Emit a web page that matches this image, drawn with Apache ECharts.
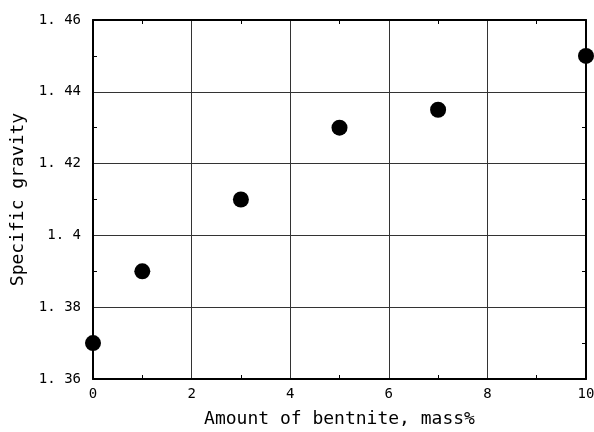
<!DOCTYPE html>
<html>
<head>
<meta charset="utf-8">
<script src="https://cdn.jsdelivr.net/npm/echarts@6/dist/echarts.min.js"></script>
<style>
  html, body { margin: 0; padding: 0; background: #fff; }
  #chart { width: 594px; height: 432px; }
</style>
</head>
<body>
<div id="chart"></div>
<script>
const bentonite = [0, 1, 3, 5, 7, 10];
const gravity = [1.37, 1.39, 1.41, 1.43, 1.435, 1.45];
const yTickLabels = { "1.36": "1. 36", "1.38": "1. 38", "1.4": "1. 4", "1.42": "1. 42", "1.44": "1. 44", "1.46": "1. 46" };

const font = "'DejaVu Sans Mono', 'Liberation Mono', monospace";

const chart = echarts.init(document.getElementById("chart"));

const frameAxis = {
  axisLine: { show: true, onZero: false, lineStyle: { color: "#000", width: 2 } },
  axisTick: { show: false, inside: true },
  minorTick: { show: true, splitNumber: 2, length: 4, lineStyle: { color: "#000", width: 1 } },
  minorSplitLine: { show: false }
};

chart.setOption({
  animation: false,
  grid: { left: 93, right: 8, top: 20, bottom: 53, outerBoundsMode: "none", containLabel: false },
  xAxis: [
    {
      type: "value", min: 0, max: 10, interval: 2,
      name: "Amount of bentnite, mass%",
      nameLocation: "middle", nameGap: 31,
      nameTextStyle: { fontFamily: font, fontSize: 18, color: "#000" },
      axisLabel: { fontFamily: font, fontSize: 14, color: "#000", margin: 8 },
      splitLine: { show: true, lineStyle: { color: "#333", width: 1 } },
      ...frameAxis
    },
    {
      type: "value", min: 0, max: 10, interval: 2, position: "top",
      axisLabel: { show: false }, splitLine: { show: false },
      ...frameAxis
    }
  ],
  yAxis: [
    {
      type: "value", min: 1.36, max: 1.46, interval: 0.02,
      name: "Specific gravity",
      nameLocation: "middle", nameGap: 66,
      nameTextStyle: { fontFamily: font, fontSize: 18, color: "#000" },
      axisLabel: {
        fontFamily: font, fontSize: 14, color: "#000", margin: 12,
        formatter: v => yTickLabels[String(+v.toFixed(2))] || String(v)
      },
      splitLine: { show: true, lineStyle: { color: "#333", width: 1 } },
      ...frameAxis
    },
    {
      type: "value", min: 1.36, max: 1.46, interval: 0.02, position: "right",
      axisLabel: { show: false }, splitLine: { show: false },
      ...frameAxis
    }
  ],
  series: [
    {
      type: "scatter",
      data: bentonite.map((x, i) => [x, gravity[i]]),
      symbol: "circle",
      symbolSize: 16,
      clip: false,
      itemStyle: { color: "#000", opacity: 1 }
    }
  ]
});
</script>
</body>
</html>
